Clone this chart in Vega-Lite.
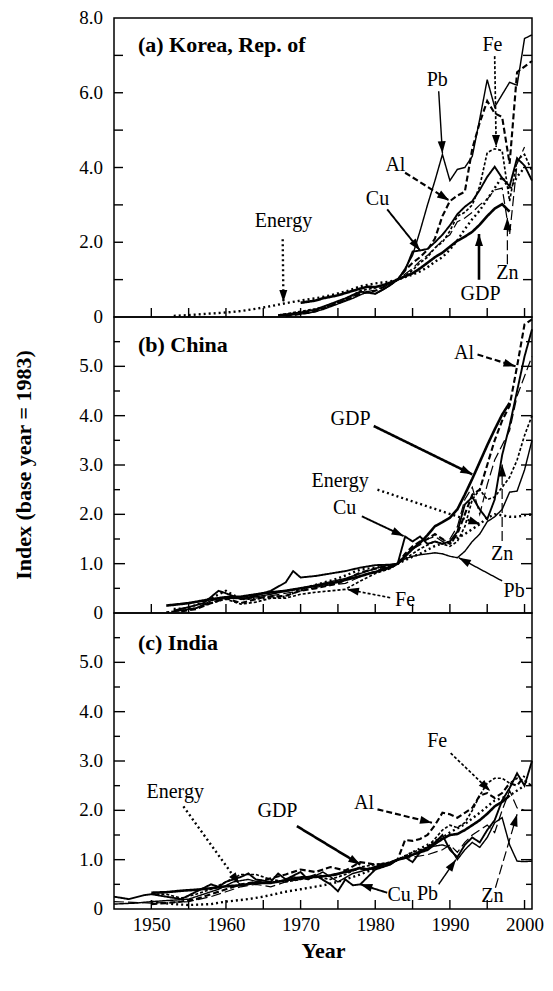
{
"$schema": "https://vega.github.io/schema/vega-lite/v6.json",
"padding": {"left": 12, "top": 8, "right": 5, "bottom": 5},
"spacing": 0,
"bounds": "flush",
"config": {
  "font": "Liberation Serif",
  "view": {"stroke": "black", "strokeWidth": 1.5},
  "axis": {"domain": false, "grid": false, "ticks": false, "labelFont": "Liberation Serif", "labelFontSize": 19, "labelColor": "black", "titleFont": "Liberation Serif", "titleFontSize": 22, "titleFontWeight": "bold", "titleColor": "black", "labelOverlap": false},
  "text": {"font": "Liberation Serif", "fontSize": 20, "color": "black"}
},
"datasets": {
  "xticks": [{"t":1950},{"t":1955},{"t":1960},{"t":1965},{"t":1970},{"t":1975},{"t":1980},{"t":1985},{"t":1990},{"t":1995},{"t":2000}],
  "yticksA": [{"t":1},{"t":2},{"t":3},{"t":4},{"t":5},{"t":6},{"t":7}],
  "yticksMajor": [{"t":1},{"t":2},{"t":3},{"t":4},{"t":5}],
  "yticksMinor": [{"t":0.5},{"t":1.5},{"t":2.5},{"t":3.5},{"t":4.5},{"t":5.5}],
  "ylabA": [{"t":0},{"t":2},{"t":4},{"t":6},{"t":8}],
  "ylabBC": [{"t":0},{"t":1},{"t":2},{"t":3},{"t":4},{"t":5}],
  "ytitle": [{"label":"Index (base year = 1983)","value":3}],
  "korea": [
    {"series":"GDP","year":1970,"value":0.38},{"series":"GDP","year":1971,"value":0.41},{"series":"GDP","year":1972,"value":0.44},{"series":"GDP","year":1973,"value":0.5},{"series":"GDP","year":1974,"value":0.54},{"series":"GDP","year":1975,"value":0.58},{"series":"GDP","year":1976,"value":0.64},{"series":"GDP","year":1977,"value":0.7},{"series":"GDP","year":1978,"value":0.76},{"series":"GDP","year":1979,"value":0.81},{"series":"GDP","year":1980,"value":0.8},{"series":"GDP","year":1981,"value":0.85},{"series":"GDP","year":1982,"value":0.92},{"series":"GDP","year":1983,"value":1.0},{"series":"GDP","year":1984,"value":1.09},{"series":"GDP","year":1985,"value":1.17},{"series":"GDP","year":1986,"value":1.3},{"series":"GDP","year":1987,"value":1.45},{"series":"GDP","year":1988,"value":1.6},{"series":"GDP","year":1989,"value":1.72},{"series":"GDP","year":1990,"value":1.88},{"series":"GDP","year":1991,"value":2.04},{"series":"GDP","year":1992,"value":2.15},{"series":"GDP","year":1993,"value":2.28},{"series":"GDP","year":1994,"value":2.47},{"series":"GDP","year":1995,"value":2.7},{"series":"GDP","year":1996,"value":2.9},{"series":"GDP","year":1997,"value":3.02},{"series":"GDP","year":1998,"value":2.82},
    {"series":"Energy","year":1953,"value":0.03},{"series":"Energy","year":1955,"value":0.05},{"series":"Energy","year":1957,"value":0.08},{"series":"Energy","year":1960,"value":0.12},{"series":"Energy","year":1962,"value":0.16},{"series":"Energy","year":1964,"value":0.22},{"series":"Energy","year":1966,"value":0.29},{"series":"Energy","year":1968,"value":0.37},{"series":"Energy","year":1970,"value":0.44},{"series":"Energy","year":1972,"value":0.5},{"series":"Energy","year":1974,"value":0.58},{"series":"Energy","year":1976,"value":0.68},{"series":"Energy","year":1978,"value":0.82},{"series":"Energy","year":1980,"value":0.9},{"series":"Energy","year":1982,"value":0.95},{"series":"Energy","year":1983,"value":1.0},{"series":"Energy","year":1984,"value":1.07},{"series":"Energy","year":1985,"value":1.13},{"series":"Energy","year":1986,"value":1.22},{"series":"Energy","year":1987,"value":1.33},{"series":"Energy","year":1988,"value":1.48},{"series":"Energy","year":1989,"value":1.6},{"series":"Energy","year":1990,"value":1.8},{"series":"Energy","year":1991,"value":2.05},{"series":"Energy","year":1992,"value":2.35},{"series":"Energy","year":1993,"value":2.62},{"series":"Energy","year":1994,"value":2.85},{"series":"Energy","year":1995,"value":3.15},{"series":"Energy","year":1996,"value":3.45},{"series":"Energy","year":1997,"value":3.75},{"series":"Energy","year":1998,"value":3.4},{"series":"Energy","year":1999,"value":3.75},{"series":"Energy","year":2000,"value":4.0},
    {"series":"Al","year":1968,"value":0.02},{"series":"Al","year":1970,"value":0.08},{"series":"Al","year":1972,"value":0.15},{"series":"Al","year":1974,"value":0.3},{"series":"Al","year":1976,"value":0.45},{"series":"Al","year":1978,"value":0.62},{"series":"Al","year":1980,"value":0.7},{"series":"Al","year":1982,"value":0.88},{"series":"Al","year":1983,"value":1.0},{"series":"Al","year":1984,"value":1.25},{"series":"Al","year":1985,"value":1.45},{"series":"Al","year":1986,"value":1.6},{"series":"Al","year":1987,"value":1.8},{"series":"Al","year":1988,"value":2.1},{"series":"Al","year":1989,"value":2.7},{"series":"Al","year":1990,"value":3.1},{"series":"Al","year":1991,"value":3.25},{"series":"Al","year":1992,"value":3.35},{"series":"Al","year":1993,"value":4.5},{"series":"Al","year":1994,"value":5.2},{"series":"Al","year":1995,"value":5.78},{"series":"Al","year":1996,"value":5.45},{"series":"Al","year":1997,"value":5.35},{"series":"Al","year":1998,"value":4.1},{"series":"Al","year":1999,"value":6.55},{"series":"Al","year":2000,"value":6.7},{"series":"Al","year":2001,"value":6.85},
    {"series":"Cu","year":1967,"value":0.05},{"series":"Cu","year":1970,"value":0.12},{"series":"Cu","year":1972,"value":0.2},{"series":"Cu","year":1974,"value":0.35},{"series":"Cu","year":1976,"value":0.5},{"series":"Cu","year":1978,"value":0.68},{"series":"Cu","year":1980,"value":0.62},{"series":"Cu","year":1982,"value":0.85},{"series":"Cu","year":1983,"value":1.0},{"series":"Cu","year":1984,"value":1.25},{"series":"Cu","year":1985,"value":1.75},{"series":"Cu","year":1986,"value":1.78},{"series":"Cu","year":1987,"value":1.82},{"series":"Cu","year":1988,"value":2.0},{"series":"Cu","year":1989,"value":2.2},{"series":"Cu","year":1990,"value":2.45},{"series":"Cu","year":1991,"value":2.75},{"series":"Cu","year":1992,"value":2.95},{"series":"Cu","year":1993,"value":3.1},{"series":"Cu","year":1994,"value":3.4},{"series":"Cu","year":1995,"value":3.75},{"series":"Cu","year":1996,"value":4.02},{"series":"Cu","year":1997,"value":3.72},{"series":"Cu","year":1998,"value":3.5},{"series":"Cu","year":1999,"value":4.25},{"series":"Cu","year":2000,"value":4.05},{"series":"Cu","year":2001,"value":3.65},
    {"series":"Fe","year":1967,"value":0.05},{"series":"Fe","year":1970,"value":0.15},{"series":"Fe","year":1972,"value":0.22},{"series":"Fe","year":1974,"value":0.32},{"series":"Fe","year":1976,"value":0.48},{"series":"Fe","year":1978,"value":0.7},{"series":"Fe","year":1980,"value":0.78},{"series":"Fe","year":1982,"value":0.9},{"series":"Fe","year":1983,"value":1.0},{"series":"Fe","year":1984,"value":1.1},{"series":"Fe","year":1985,"value":1.25},{"series":"Fe","year":1986,"value":1.45},{"series":"Fe","year":1987,"value":1.6},{"series":"Fe","year":1988,"value":1.85},{"series":"Fe","year":1989,"value":2.0},{"series":"Fe","year":1990,"value":2.3},{"series":"Fe","year":1991,"value":2.7},{"series":"Fe","year":1992,"value":2.8},{"series":"Fe","year":1993,"value":3.0},{"series":"Fe","year":1994,"value":3.5},{"series":"Fe","year":1995,"value":4.4},{"series":"Fe","year":1996,"value":4.5},{"series":"Fe","year":1997,"value":4.45},{"series":"Fe","year":1998,"value":3.1},{"series":"Fe","year":1999,"value":4.2},{"series":"Fe","year":2000,"value":4.35},{"series":"Fe","year":2001,"value":3.9},
    {"series":"Pb","year":1967,"value":0.03},{"series":"Pb","year":1969,"value":0.06},{"series":"Pb","year":1971,"value":0.1},{"series":"Pb","year":1973,"value":0.2},{"series":"Pb","year":1975,"value":0.35},{"series":"Pb","year":1977,"value":0.5},{"series":"Pb","year":1979,"value":0.68},{"series":"Pb","year":1980,"value":0.62},{"series":"Pb","year":1981,"value":0.72},{"series":"Pb","year":1982,"value":0.85},{"series":"Pb","year":1983,"value":1.0},{"series":"Pb","year":1984,"value":1.3},{"series":"Pb","year":1985,"value":1.65},{"series":"Pb","year":1986,"value":2.3},{"series":"Pb","year":1987,"value":3.0},{"series":"Pb","year":1988,"value":3.65},{"series":"Pb","year":1989,"value":4.35},{"series":"Pb","year":1990,"value":3.65},{"series":"Pb","year":1991,"value":3.95},{"series":"Pb","year":1992,"value":4.0},{"series":"Pb","year":1993,"value":4.3},{"series":"Pb","year":1994,"value":5.3},{"series":"Pb","year":1995,"value":6.35},{"series":"Pb","year":1996,"value":5.62},{"series":"Pb","year":1997,"value":5.95},{"series":"Pb","year":1998,"value":6.28},{"series":"Pb","year":1999,"value":6.2},{"series":"Pb","year":2000,"value":7.45},{"series":"Pb","year":2001,"value":7.55},
    {"series":"Zn","year":1968,"value":0.03},{"series":"Zn","year":1970,"value":0.1},{"series":"Zn","year":1972,"value":0.18},{"series":"Zn","year":1974,"value":0.3},{"series":"Zn","year":1976,"value":0.45},{"series":"Zn","year":1978,"value":0.65},{"series":"Zn","year":1980,"value":0.72},{"series":"Zn","year":1982,"value":0.88},{"series":"Zn","year":1983,"value":1.0},{"series":"Zn","year":1984,"value":1.15},{"series":"Zn","year":1985,"value":1.3},{"series":"Zn","year":1986,"value":1.5},{"series":"Zn","year":1987,"value":1.65},{"series":"Zn","year":1988,"value":1.85},{"series":"Zn","year":1989,"value":2.05},{"series":"Zn","year":1990,"value":2.2},{"series":"Zn","year":1991,"value":2.55},{"series":"Zn","year":1992,"value":2.65},{"series":"Zn","year":1993,"value":2.8},{"series":"Zn","year":1994,"value":3.0},{"series":"Zn","year":1995,"value":3.15},{"series":"Zn","year":1996,"value":3.4},{"series":"Zn","year":1997,"value":3.45},{"series":"Zn","year":1998,"value":2.2},{"series":"Zn","year":1999,"value":4.1},{"series":"Zn","year":2000,"value":4.55}
  ],
  "china": [
    {"series":"GDP","year":1952,"value":0.15},{"series":"GDP","year":1955,"value":0.2},{"series":"GDP","year":1958,"value":0.28},{"series":"GDP","year":1960,"value":0.32},{"series":"GDP","year":1962,"value":0.33},{"series":"GDP","year":1965,"value":0.4},{"series":"GDP","year":1968,"value":0.45},{"series":"GDP","year":1970,"value":0.5},{"series":"GDP","year":1972,"value":0.55},{"series":"GDP","year":1975,"value":0.63},{"series":"GDP","year":1978,"value":0.75},{"series":"GDP","year":1980,"value":0.83},{"series":"GDP","year":1982,"value":0.92},{"series":"GDP","year":1983,"value":1.0},{"series":"GDP","year":1984,"value":1.15},{"series":"GDP","year":1985,"value":1.3},{"series":"GDP","year":1986,"value":1.42},{"series":"GDP","year":1987,"value":1.58},{"series":"GDP","year":1988,"value":1.76},{"series":"GDP","year":1989,"value":1.84},{"series":"GDP","year":1990,"value":1.93},{"series":"GDP","year":1991,"value":2.1},{"series":"GDP","year":1992,"value":2.4},{"series":"GDP","year":1993,"value":2.72},{"series":"GDP","year":1994,"value":3.06},{"series":"GDP","year":1995,"value":3.4},{"series":"GDP","year":1996,"value":3.72},{"series":"GDP","year":1997,"value":4.02},{"series":"GDP","year":1998,"value":4.26},
    {"series":"Energy","year":1953,"value":0.08},{"series":"Energy","year":1955,"value":0.1},{"series":"Energy","year":1958,"value":0.3},{"series":"Energy","year":1960,"value":0.45},{"series":"Energy","year":1962,"value":0.28},{"series":"Energy","year":1965,"value":0.3},{"series":"Energy","year":1968,"value":0.33},{"series":"Energy","year":1970,"value":0.48},{"series":"Energy","year":1972,"value":0.57},{"series":"Energy","year":1975,"value":0.7},{"series":"Energy","year":1978,"value":0.88},{"series":"Energy","year":1980,"value":0.92},{"series":"Energy","year":1982,"value":0.95},{"series":"Energy","year":1983,"value":1.0},{"series":"Energy","year":1984,"value":1.07},{"series":"Energy","year":1985,"value":1.14},{"series":"Energy","year":1986,"value":1.2},{"series":"Energy","year":1987,"value":1.28},{"series":"Energy","year":1988,"value":1.36},{"series":"Energy","year":1989,"value":1.41},{"series":"Energy","year":1990,"value":1.44},{"series":"Energy","year":1991,"value":1.52},{"series":"Energy","year":1992,"value":1.6},{"series":"Energy","year":1993,"value":1.7},{"series":"Energy","year":1994,"value":1.8},{"series":"Energy","year":1995,"value":1.93},{"series":"Energy","year":1996,"value":2.0},{"series":"Energy","year":1997,"value":1.98},{"series":"Energy","year":1998,"value":1.95},{"series":"Energy","year":1999,"value":1.95},{"series":"Energy","year":2000,"value":1.98},{"series":"Energy","year":2001,"value":2.0},
    {"series":"Al","year":1954,"value":0.03},{"series":"Al","year":1956,"value":0.08},{"series":"Al","year":1958,"value":0.2},{"series":"Al","year":1960,"value":0.3},{"series":"Al","year":1962,"value":0.2},{"series":"Al","year":1965,"value":0.32},{"series":"Al","year":1968,"value":0.35},{"series":"Al","year":1970,"value":0.45},{"series":"Al","year":1972,"value":0.5},{"series":"Al","year":1975,"value":0.6},{"series":"Al","year":1978,"value":0.82},{"series":"Al","year":1980,"value":0.9},{"series":"Al","year":1982,"value":0.95},{"series":"Al","year":1983,"value":1.0},{"series":"Al","year":1984,"value":1.2},{"series":"Al","year":1985,"value":1.35},{"series":"Al","year":1986,"value":1.45},{"series":"Al","year":1987,"value":1.5},{"series":"Al","year":1988,"value":1.6},{"series":"Al","year":1989,"value":1.5},{"series":"Al","year":1990,"value":1.4},{"series":"Al","year":1991,"value":1.6},{"series":"Al","year":1992,"value":2.0},{"series":"Al","year":1993,"value":2.4},{"series":"Al","year":1994,"value":2.5},{"series":"Al","year":1995,"value":3.0},{"series":"Al","year":1996,"value":3.5},{"series":"Al","year":1997,"value":3.9},{"series":"Al","year":1998,"value":4.2},{"series":"Al","year":1999,"value":5.0},{"series":"Al","year":2000,"value":5.85},{"series":"Al","year":2001,"value":5.95},
    {"series":"Cu","year":1953,"value":0.05},{"series":"Cu","year":1955,"value":0.12},{"series":"Cu","year":1957,"value":0.2},{"series":"Cu","year":1959,"value":0.45},{"series":"Cu","year":1960,"value":0.4},{"series":"Cu","year":1962,"value":0.28},{"series":"Cu","year":1964,"value":0.35},{"series":"Cu","year":1966,"value":0.45},{"series":"Cu","year":1968,"value":0.62},{"series":"Cu","year":1969,"value":0.85},{"series":"Cu","year":1970,"value":0.72},{"series":"Cu","year":1972,"value":0.75},{"series":"Cu","year":1974,"value":0.8},{"series":"Cu","year":1976,"value":0.85},{"series":"Cu","year":1978,"value":0.92},{"series":"Cu","year":1980,"value":0.97},{"series":"Cu","year":1982,"value":0.98},{"series":"Cu","year":1983,"value":1.0},{"series":"Cu","year":1984,"value":1.55},{"series":"Cu","year":1985,"value":1.45},{"series":"Cu","year":1986,"value":1.55},{"series":"Cu","year":1987,"value":1.4},{"series":"Cu","year":1988,"value":1.45},{"series":"Cu","year":1989,"value":1.4},{"series":"Cu","year":1990,"value":1.45},{"series":"Cu","year":1991,"value":1.65},{"series":"Cu","year":1992,"value":2.2},{"series":"Cu","year":1993,"value":2.35},{"series":"Cu","year":1994,"value":2.1},{"series":"Cu","year":1995,"value":1.9},{"series":"Cu","year":1996,"value":2.3},{"series":"Cu","year":1997,"value":3.2},{"series":"Cu","year":1998,"value":3.8},{"series":"Cu","year":1999,"value":4.5},{"series":"Cu","year":2000,"value":5.2},{"series":"Cu","year":2001,"value":5.75},
    {"series":"Fe","year":1952,"value":0.02},{"series":"Fe","year":1954,"value":0.05},{"series":"Fe","year":1956,"value":0.1},{"series":"Fe","year":1958,"value":0.2},{"series":"Fe","year":1960,"value":0.28},{"series":"Fe","year":1962,"value":0.18},{"series":"Fe","year":1964,"value":0.22},{"series":"Fe","year":1966,"value":0.3},{"series":"Fe","year":1968,"value":0.3},{"series":"Fe","year":1970,"value":0.38},{"series":"Fe","year":1972,"value":0.42},{"series":"Fe","year":1974,"value":0.45},{"series":"Fe","year":1976,"value":0.48},{"series":"Fe","year":1978,"value":0.65},{"series":"Fe","year":1980,"value":0.8},{"series":"Fe","year":1982,"value":0.9},{"series":"Fe","year":1983,"value":1.0},{"series":"Fe","year":1984,"value":1.1},{"series":"Fe","year":1985,"value":1.2},{"series":"Fe","year":1986,"value":1.3},{"series":"Fe","year":1987,"value":1.38},{"series":"Fe","year":1988,"value":1.45},{"series":"Fe","year":1989,"value":1.4},{"series":"Fe","year":1990,"value":1.35},{"series":"Fe","year":1991,"value":1.45},{"series":"Fe","year":1992,"value":1.75},{"series":"Fe","year":1993,"value":2.3},{"series":"Fe","year":1994,"value":2.5},{"series":"Fe","year":1995,"value":2.3},{"series":"Fe","year":1996,"value":2.35},{"series":"Fe","year":1997,"value":2.55},{"series":"Fe","year":1998,"value":2.75},{"series":"Fe","year":1999,"value":3.1},{"series":"Fe","year":2000,"value":3.6},{"series":"Fe","year":2001,"value":4.0},
    {"series":"Pb","year":1953,"value":0.03},{"series":"Pb","year":1956,"value":0.1},{"series":"Pb","year":1958,"value":0.25},{"series":"Pb","year":1960,"value":0.32},{"series":"Pb","year":1963,"value":0.3},{"series":"Pb","year":1966,"value":0.38},{"series":"Pb","year":1970,"value":0.5},{"series":"Pb","year":1973,"value":0.6},{"series":"Pb","year":1976,"value":0.7},{"series":"Pb","year":1979,"value":0.85},{"series":"Pb","year":1981,"value":0.95},{"series":"Pb","year":1983,"value":1.0},{"series":"Pb","year":1984,"value":1.1},{"series":"Pb","year":1985,"value":1.15},{"series":"Pb","year":1986,"value":1.18},{"series":"Pb","year":1987,"value":1.2},{"series":"Pb","year":1988,"value":1.22},{"series":"Pb","year":1989,"value":1.2},{"series":"Pb","year":1990,"value":1.15},{"series":"Pb","year":1991,"value":1.12},{"series":"Pb","year":1992,"value":1.25},{"series":"Pb","year":1993,"value":1.45},{"series":"Pb","year":1994,"value":1.6},{"series":"Pb","year":1995,"value":1.85},{"series":"Pb","year":1996,"value":1.95},{"series":"Pb","year":1997,"value":2.1},{"series":"Pb","year":1998,"value":2.45},{"series":"Pb","year":1999,"value":2.47},{"series":"Pb","year":2000,"value":2.9},{"series":"Pb","year":2001,"value":3.5},
    {"series":"Zn","year":1953,"value":0.03},{"series":"Zn","year":1956,"value":0.1},{"series":"Zn","year":1958,"value":0.22},{"series":"Zn","year":1960,"value":0.3},{"series":"Zn","year":1963,"value":0.28},{"series":"Zn","year":1966,"value":0.35},{"series":"Zn","year":1970,"value":0.45},{"series":"Zn","year":1973,"value":0.55},{"series":"Zn","year":1976,"value":0.6},{"series":"Zn","year":1979,"value":0.8},{"series":"Zn","year":1981,"value":0.9},{"series":"Zn","year":1983,"value":1.0},{"series":"Zn","year":1984,"value":1.15},{"series":"Zn","year":1985,"value":1.3},{"series":"Zn","year":1986,"value":1.38},{"series":"Zn","year":1987,"value":1.5},{"series":"Zn","year":1988,"value":1.55},{"series":"Zn","year":1989,"value":1.45},{"series":"Zn","year":1990,"value":1.5},{"series":"Zn","year":1991,"value":1.75},{"series":"Zn","year":1992,"value":2.3},{"series":"Zn","year":1993,"value":2.55},{"series":"Zn","year":1994,"value":2.0},{"series":"Zn","year":1995,"value":2.6},{"series":"Zn","year":1996,"value":3.1},{"series":"Zn","year":1997,"value":3.4},{"series":"Zn","year":1998,"value":3.7},{"series":"Zn","year":1999,"value":4.4},{"series":"Zn","year":2000,"value":4.8},{"series":"Zn","year":2001,"value":5.2}
  ],
  "india": [
    {"series":"GDP","year":1950,"value":0.33},{"series":"GDP","year":1952,"value":0.34},{"series":"GDP","year":1954,"value":0.37},{"series":"GDP","year":1956,"value":0.39},{"series":"GDP","year":1958,"value":0.42},{"series":"GDP","year":1960,"value":0.46},{"series":"GDP","year":1962,"value":0.48},{"series":"GDP","year":1964,"value":0.53},{"series":"GDP","year":1966,"value":0.53},{"series":"GDP","year":1968,"value":0.58},{"series":"GDP","year":1970,"value":0.64},{"series":"GDP","year":1972,"value":0.65},{"series":"GDP","year":1974,"value":0.68},{"series":"GDP","year":1976,"value":0.75},{"series":"GDP","year":1978,"value":0.83},{"series":"GDP","year":1979,"value":0.8},{"series":"GDP","year":1980,"value":0.85},{"series":"GDP","year":1982,"value":0.94},{"series":"GDP","year":1983,"value":1.0},{"series":"GDP","year":1984,"value":1.04},{"series":"GDP","year":1985,"value":1.1},{"series":"GDP","year":1986,"value":1.15},{"series":"GDP","year":1987,"value":1.2},{"series":"GDP","year":1988,"value":1.32},{"series":"GDP","year":1989,"value":1.42},{"series":"GDP","year":1990,"value":1.5},{"series":"GDP","year":1991,"value":1.52},{"series":"GDP","year":1992,"value":1.6},{"series":"GDP","year":1993,"value":1.7},{"series":"GDP","year":1994,"value":1.8},{"series":"GDP","year":1995,"value":1.93},{"series":"GDP","year":1996,"value":2.08},{"series":"GDP","year":1997,"value":2.17},{"series":"GDP","year":1998,"value":2.3},
    {"series":"Energy","year":1950,"value":0.15},{"series":"Energy","year":1953,"value":0.1},{"series":"Energy","year":1955,"value":0.08},{"series":"Energy","year":1958,"value":0.1},{"series":"Energy","year":1960,"value":0.15},{"series":"Energy","year":1963,"value":0.2},{"series":"Energy","year":1965,"value":0.25},{"series":"Energy","year":1968,"value":0.35},{"series":"Energy","year":1970,"value":0.4},{"series":"Energy","year":1973,"value":0.48},{"series":"Energy","year":1975,"value":0.55},{"series":"Energy","year":1978,"value":0.7},{"series":"Energy","year":1980,"value":0.82},{"series":"Energy","year":1982,"value":0.93},{"series":"Energy","year":1983,"value":1.0},{"series":"Energy","year":1985,"value":1.15},{"series":"Energy","year":1987,"value":1.3},{"series":"Energy","year":1989,"value":1.45},{"series":"Energy","year":1990,"value":1.55},{"series":"Energy","year":1992,"value":1.72},{"series":"Energy","year":1994,"value":1.95},{"series":"Energy","year":1996,"value":2.2},{"series":"Energy","year":1998,"value":2.3},{"series":"Energy","year":2000,"value":2.5},
    {"series":"Al","year":1950,"value":0.1},{"series":"Al","year":1952,"value":0.12},{"series":"Al","year":1954,"value":0.15},{"series":"Al","year":1956,"value":0.2},{"series":"Al","year":1958,"value":0.3},{"series":"Al","year":1960,"value":0.4},{"series":"Al","year":1962,"value":0.5},{"series":"Al","year":1964,"value":0.55},{"series":"Al","year":1966,"value":0.62},{"series":"Al","year":1968,"value":0.7},{"series":"Al","year":1970,"value":0.8},{"series":"Al","year":1972,"value":0.75},{"series":"Al","year":1974,"value":0.85},{"series":"Al","year":1976,"value":0.78},{"series":"Al","year":1978,"value":0.95},{"series":"Al","year":1980,"value":0.9},{"series":"Al","year":1982,"value":0.92},{"series":"Al","year":1983,"value":1.0},{"series":"Al","year":1984,"value":1.4},{"series":"Al","year":1985,"value":1.38},{"series":"Al","year":1986,"value":1.42},{"series":"Al","year":1987,"value":1.5},{"series":"Al","year":1988,"value":1.7},{"series":"Al","year":1989,"value":1.95},{"series":"Al","year":1990,"value":1.92},{"series":"Al","year":1991,"value":1.85},{"series":"Al","year":1992,"value":1.95},{"series":"Al","year":1993,"value":2.05},{"series":"Al","year":1994,"value":2.3},{"series":"Al","year":1995,"value":2.35},{"series":"Al","year":1996,"value":2.25},{"series":"Al","year":1997,"value":2.35},{"series":"Al","year":1998,"value":2.55},{"series":"Al","year":1999,"value":2.5},{"series":"Al","year":2000,"value":2.7},
    {"series":"Fe","year":1950,"value":0.3},{"series":"Fe","year":1952,"value":0.3},{"series":"Fe","year":1954,"value":0.22},{"series":"Fe","year":1956,"value":0.3},{"series":"Fe","year":1958,"value":0.4},{"series":"Fe","year":1960,"value":0.55},{"series":"Fe","year":1962,"value":0.7},{"series":"Fe","year":1964,"value":0.7},{"series":"Fe","year":1966,"value":0.6},{"series":"Fe","year":1968,"value":0.55},{"series":"Fe","year":1970,"value":0.6},{"series":"Fe","year":1972,"value":0.65},{"series":"Fe","year":1974,"value":0.6},{"series":"Fe","year":1976,"value":0.7},{"series":"Fe","year":1978,"value":0.85},{"series":"Fe","year":1980,"value":0.9},{"series":"Fe","year":1982,"value":0.95},{"series":"Fe","year":1983,"value":1.0},{"series":"Fe","year":1985,"value":1.15},{"series":"Fe","year":1987,"value":1.25},{"series":"Fe","year":1989,"value":1.6},{"series":"Fe","year":1990,"value":1.7},{"series":"Fe","year":1991,"value":1.65},{"series":"Fe","year":1992,"value":1.75},{"series":"Fe","year":1993,"value":2.0},{"series":"Fe","year":1994,"value":2.3},{"series":"Fe","year":1995,"value":2.55},{"series":"Fe","year":1996,"value":2.65},{"series":"Fe","year":1997,"value":2.65},{"series":"Fe","year":1998,"value":2.55},{"series":"Fe","year":1999,"value":2.65},{"series":"Fe","year":2000,"value":2.6},{"series":"Fe","year":2001,"value":2.5},
    {"series":"Cu","year":1945,"value":0.25},{"series":"Cu","year":1947,"value":0.2},{"series":"Cu","year":1949,"value":0.28},{"series":"Cu","year":1950,"value":0.3},{"series":"Cu","year":1952,"value":0.25},{"series":"Cu","year":1954,"value":0.2},{"series":"Cu","year":1956,"value":0.35},{"series":"Cu","year":1958,"value":0.5},{"series":"Cu","year":1959,"value":0.45},{"series":"Cu","year":1960,"value":0.55},{"series":"Cu","year":1962,"value":0.65},{"series":"Cu","year":1963,"value":0.72},{"series":"Cu","year":1964,"value":0.6},{"series":"Cu","year":1966,"value":0.55},{"series":"Cu","year":1967,"value":0.72},{"series":"Cu","year":1968,"value":0.6},{"series":"Cu","year":1970,"value":0.75},{"series":"Cu","year":1971,"value":0.6},{"series":"Cu","year":1972,"value":0.68},{"series":"Cu","year":1974,"value":0.5},{"series":"Cu","year":1975,"value":0.36},{"series":"Cu","year":1976,"value":0.6},{"series":"Cu","year":1977,"value":0.48},{"series":"Cu","year":1978,"value":0.5},{"series":"Cu","year":1979,"value":0.65},{"series":"Cu","year":1980,"value":0.8},{"series":"Cu","year":1982,"value":0.9},{"series":"Cu","year":1983,"value":1.0},{"series":"Cu","year":1984,"value":1.05},{"series":"Cu","year":1985,"value":0.95},{"series":"Cu","year":1986,"value":1.15},{"series":"Cu","year":1987,"value":1.25},{"series":"Cu","year":1988,"value":1.35},{"series":"Cu","year":1989,"value":1.5},{"series":"Cu","year":1990,"value":1.2},{"series":"Cu","year":1991,"value":1.05},{"series":"Cu","year":1992,"value":1.3},{"series":"Cu","year":1993,"value":1.45},{"series":"Cu","year":1994,"value":1.35},{"series":"Cu","year":1995,"value":1.6},{"series":"Cu","year":1996,"value":1.8},{"series":"Cu","year":1997,"value":2.2},{"series":"Cu","year":1998,"value":2.45},{"series":"Cu","year":1999,"value":2.75},{"series":"Cu","year":2000,"value":2.5},{"series":"Cu","year":2001,"value":3.0},
    {"series":"Pb","year":1945,"value":0.1},{"series":"Pb","year":1948,"value":0.12},{"series":"Pb","year":1950,"value":0.15},{"series":"Pb","year":1953,"value":0.18},{"series":"Pb","year":1955,"value":0.2},{"series":"Pb","year":1957,"value":0.3},{"series":"Pb","year":1959,"value":0.4},{"series":"Pb","year":1961,"value":0.55},{"series":"Pb","year":1963,"value":0.6},{"series":"Pb","year":1965,"value":0.52},{"series":"Pb","year":1967,"value":0.55},{"series":"Pb","year":1969,"value":0.65},{"series":"Pb","year":1971,"value":0.6},{"series":"Pb","year":1973,"value":0.75},{"series":"Pb","year":1975,"value":0.55},{"series":"Pb","year":1977,"value":0.72},{"series":"Pb","year":1979,"value":0.8},{"series":"Pb","year":1981,"value":0.85},{"series":"Pb","year":1983,"value":1.0},{"series":"Pb","year":1985,"value":1.1},{"series":"Pb","year":1987,"value":1.25},{"series":"Pb","year":1989,"value":1.3},{"series":"Pb","year":1990,"value":1.25},{"series":"Pb","year":1991,"value":1.0},{"series":"Pb","year":1992,"value":1.2},{"series":"Pb","year":1993,"value":1.35},{"series":"Pb","year":1994,"value":1.25},{"series":"Pb","year":1995,"value":1.45},{"series":"Pb","year":1996,"value":1.75},{"series":"Pb","year":1997,"value":1.85},{"series":"Pb","year":1998,"value":1.3},{"series":"Pb","year":1999,"value":0.97},{"series":"Pb","year":2000,"value":0.96},{"series":"Pb","year":2001,"value":0.97},
    {"series":"Zn","year":1945,"value":0.15},{"series":"Zn","year":1950,"value":0.12},{"series":"Zn","year":1955,"value":0.15},{"series":"Zn","year":1958,"value":0.25},{"series":"Zn","year":1960,"value":0.35},{"series":"Zn","year":1962,"value":0.45},{"series":"Zn","year":1964,"value":0.5},{"series":"Zn","year":1966,"value":0.45},{"series":"Zn","year":1968,"value":0.55},{"series":"Zn","year":1970,"value":0.6},{"series":"Zn","year":1972,"value":0.7},{"series":"Zn","year":1974,"value":0.65},{"series":"Zn","year":1976,"value":0.75},{"series":"Zn","year":1978,"value":0.8},{"series":"Zn","year":1980,"value":0.85},{"series":"Zn","year":1982,"value":0.9},{"series":"Zn","year":1983,"value":1.0},{"series":"Zn","year":1985,"value":1.05},{"series":"Zn","year":1987,"value":1.1},{"series":"Zn","year":1989,"value":1.2},{"series":"Zn","year":1990,"value":1.3},{"series":"Zn","year":1991,"value":1.15},{"series":"Zn","year":1992,"value":1.35},{"series":"Zn","year":1993,"value":1.5},{"series":"Zn","year":1994,"value":1.6},{"series":"Zn","year":1995,"value":1.7},{"series":"Zn","year":1996,"value":1.55},{"series":"Zn","year":1997,"value":2.0},{"series":"Zn","year":1998,"value":2.4},{"series":"Zn","year":1999,"value":2.05},{"series":"Zn","year":2000,"value":2.0},{"series":"Zn","year":2001,"value":2.0}
  ],
  "arrowsA": [
    {"series":"Energy","x1":1967.6,"y1":2.08,"x2":1967.7,"y2":0.4},
    {"series":"Cu","x1":1981.6,"y1":2.88,"x2":1986.0,"y2":1.78},
    {"series":"Al","x1":1984.0,"y1":3.86,"x2":1989.9,"y2":3.12},
    {"series":"Pb","x1":1988.5,"y1":6.04,"x2":1989.0,"y2":4.38},
    {"series":"Fe","x1":1996.0,"y1":6.98,"x2":1996.2,"y2":4.55},
    {"series":"Zn","x1":1997.7,"y1":1.41,"x2":1997.7,"y2":2.65},
    {"series":"GDP","x1":1993.9,"y1":1.0,"x2":1993.9,"y2":2.22}
  ],
  "labelsA": [
    {"label":"Energy","year":1967.7,"value":2.57},{"label":"Cu","year":1980.3,"value":3.16},{"label":"Al","year":1982.7,"value":4.08},{"label":"Pb","year":1988.3,"value":6.34},{"label":"Fe","year":1995.7,"value":7.29},{"label":"Zn","year":1997.7,"value":1.18},{"label":"GDP","year":1994.1,"value":0.61}
  ],
  "titleA": [{"label":"(a) Korea, Rep. of","year":1948.2,"value":7.29}],
  "arrowsB": [
    {"series":"Al","x1":1993.7,"y1":5.24,"x2":1998.8,"y2":5.0},
    {"series":"GDP","x1":1979.8,"y1":3.79,"x2":1993.0,"y2":2.81},
    {"series":"Energy","x1":1980.3,"y1":2.5,"x2":1994.1,"y2":1.8},
    {"series":"Cu","x1":1978.2,"y1":1.96,"x2":1983.8,"y2":1.56},
    {"series":"Zn","x1":1997.0,"y1":1.46,"x2":1997.0,"y2":3.01},
    {"series":"Pb","x1":1997.0,"y1":0.65,"x2":1991.2,"y2":1.12},
    {"series":"Fe","x1":1982.0,"y1":0.31,"x2":1976.2,"y2":0.48}
  ],
  "labelsB": [
    {"label":"Al","year":1991.9,"value":5.27},{"label":"GDP","year":1976.7,"value":3.94},{"label":"Energy","year":1975.3,"value":2.67},{"label":"Cu","year":1975.9,"value":2.13},{"label":"Zn","year":1997.0,"value":1.19},{"label":"Pb","year":1998.6,"value":0.45},{"label":"Fe","year":1984.0,"value":0.26}
  ],
  "titleB": [{"label":"(b) China","year":1948.2,"value":5.44}],
  "arrowsC": [
    {"series":"Fe","x1":1990.1,"y1":3.16,"x2":1995.4,"y2":2.39},
    {"series":"Energy","x1":1954.3,"y1":2.08,"x2":1961.8,"y2":0.5},
    {"series":"GDP","x1":1969.5,"y1":1.68,"x2":1978.0,"y2":0.9},
    {"series":"Al","x1":1980.3,"y1":2.02,"x2":1987.6,"y2":1.75},
    {"series":"Cu","x1":1981.6,"y1":0.33,"x2":1978.0,"y2":0.5},
    {"series":"Pb","x1":1988.5,"y1":0.5,"x2":1990.8,"y2":1.0},
    {"series":"Zn","x1":1996.1,"y1":0.43,"x2":1999.0,"y2":1.92}
  ],
  "labelsC": [
    {"label":"Fe","year":1988.3,"value":3.4},{"label":"Energy","year":1953.2,"value":2.37},{"label":"GDP","year":1966.9,"value":1.98},{"label":"Al","year":1978.5,"value":2.15},{"label":"Cu","year":1983.2,"value":0.28},{"label":"Pb","year":1987.0,"value":0.31},{"label":"Zn","year":1995.7,"value":0.26}
  ],
  "titleC": [{"label":"(c) India","year":1948.2,"value":5.39}]
},
"vconcat": [
  {
    "width": 418, "height": 299,
    "layer": [
      {"data": {"name": "korea"}, "mark": {"type": "line", "color": "black"},
       "encoding": {
         "x": {"field": "year", "type": "quantitative", "scale": {"domain": [1945, 2001], "nice": false, "zero": false}, "axis": null},
         "y": {"field": "value", "type": "quantitative", "scale": {"domain": [0, 8], "nice": false}, "axis": null},
         "strokeDash": {"field": "series", "type": "nominal", "scale": {"domain": ["GDP","Energy","Al","Cu","Fe","Pb","Zn"], "range": [[1,0],[2,3],[6,3],[1,0],[3,2],[1,0],[10,4]]}, "legend": null},
         "strokeWidth": {"field": "series", "type": "ordinal", "scale": {"domain": ["GDP","Energy","Al","Cu","Fe","Pb","Zn"], "range": [2.6,1.2,1.1,1,1,1,1.1]}, "legend": null}
       }},
      {"data": {"name": "ylabA"}, "transform": [{"calculate": "datum.t == 0 ? '0' : format(datum.t, '.1f')", "as": "lab"}],
       "mark": {"type": "text", "align": "right", "baseline": "middle", "dx": -11, "fontSize": 19},
       "encoding": {"y": {"field": "t", "type": "quantitative", "axis": null}, "x": {"datum": 1945, "type": "quantitative"}, "text": {"field": "lab"}}},
      {"data": {"name": "titleA"}, "mark": {"type": "text", "align": "left", "baseline": "middle", "fontWeight": "bold", "fontSize": 22},
       "encoding": {"x": {"field": "year", "type": "quantitative"}, "y": {"field": "value", "type": "quantitative", "axis": null}, "text": {"field": "label"}}},
      {"data": {"name": "arrowsA"}, "mark": {"type": "rule", "color": "black"},
       "encoding": {
         "x": {"field": "x1", "type": "quantitative"}, "y": {"field": "y1", "type": "quantitative", "axis": null},
         "x2": {"field": "x2"}, "y2": {"field": "y2"},
         "strokeDash": {"field": "series", "type": "nominal", "scale": {"domain": ["GDP","Energy","Al","Cu","Fe","Pb","Zn"], "range": [[1,0],[2,3],[6,3],[1,0],[3,2],[1,0],[10,4]]}, "legend": null},
         "strokeWidth": {"field": "series", "type": "ordinal", "scale": {"domain": ["GDP","Energy","Al","Cu","Fe","Pb","Zn"], "range": [2.6,1.2,1.1,1,1,1,1.1]}, "legend": null}
       }},
      {"data": {"name": "arrowsA"}, "transform": [{"calculate": "atan2((datum.x2-datum.x1)*7.46, (datum.y2-datum.y1)*37.375)*180/PI", "as": "ang"}],
       "mark": {"type": "point", "shape": "M0,0L-0.4,1.2L0.4,1.2Z", "filled": true, "color": "black", "opacity": 1, "size": 400, "strokeWidth": 0},
       "encoding": {"x": {"field": "x2", "type": "quantitative"}, "y": {"field": "y2", "type": "quantitative", "axis": null}, "angle": {"field": "ang", "type": "quantitative", "scale": null}}},
      {"data": {"name": "labelsA"}, "mark": {"type": "text", "align": "center", "baseline": "middle", "fontSize": 20},
       "encoding": {"x": {"field": "year", "type": "quantitative"}, "y": {"field": "value", "type": "quantitative", "axis": null}, "text": {"field": "label"}}},
      {"data": {"name": "xticks"}, "mark": {"type": "rule", "color": "black", "strokeWidth": 1.4, "y2Offset": -9},
       "encoding": {"x": {"field": "t", "type": "quantitative"}, "y": {"datum": 0, "type": "quantitative", "axis": null}, "y2": {"datum": 0}}},
      {"data": {"name": "yticksA"}, "mark": {"type": "rule", "color": "black", "strokeWidth": 1.4, "x2Offset": 9},
       "encoding": {"y": {"field": "t", "type": "quantitative", "axis": null}, "x": {"datum": 1945, "type": "quantitative"}, "x2": {"datum": 1945}}},
      {"data": {"name": "yticksA"}, "mark": {"type": "rule", "color": "black", "strokeWidth": 1.4, "x2Offset": -9},
       "encoding": {"y": {"field": "t", "type": "quantitative", "axis": null}, "x": {"datum": 2001, "type": "quantitative"}, "x2": {"datum": 2001}}}
    ]
  },
  {
    "width": 418, "height": 296,
    "layer": [
      {"data": {"name": "china"}, "mark": {"type": "line", "color": "black"},
       "encoding": {
         "x": {"field": "year", "type": "quantitative", "scale": {"domain": [1945, 2001], "nice": false, "zero": false}, "axis": null},
         "y": {"field": "value", "type": "quantitative", "scale": {"domain": [0, 6], "nice": false}, "axis": null},
         "strokeDash": {"field": "series", "type": "nominal", "scale": {"domain": ["GDP","Energy","Al","Cu","Fe","Pb","Zn"], "range": [[1,0],[2,3],[6,3],[1,0],[3,2],[1,0],[10,4]]}, "legend": null},
         "strokeWidth": {"field": "series", "type": "ordinal", "scale": {"domain": ["GDP","Energy","Al","Cu","Fe","Pb","Zn"], "range": [2.6,1.2,1.1,1,1,1,1.1]}, "legend": null}
       }},
      {"data": {"name": "ylabBC"}, "transform": [{"calculate": "datum.t == 0 ? '0' : format(datum.t, '.1f')", "as": "lab"}],
       "mark": {"type": "text", "align": "right", "baseline": "middle", "dx": -11, "fontSize": 19},
       "encoding": {"y": {"field": "t", "type": "quantitative", "axis": null}, "x": {"datum": 1945, "type": "quantitative"}, "text": {"field": "lab"}}},
      {"data": {"name": "ytitle"}, "mark": {"type": "text", "align": "center", "baseline": "middle", "angle": 270, "dy": -90, "fontSize": 22, "fontWeight": "bold"},
       "encoding": {"y": {"field": "value", "type": "quantitative", "axis": null}, "x": {"datum": 1945, "type": "quantitative"}, "text": {"field": "label"}}},
      {"data": {"name": "titleB"}, "mark": {"type": "text", "align": "left", "baseline": "middle", "fontWeight": "bold", "fontSize": 22},
       "encoding": {"x": {"field": "year", "type": "quantitative"}, "y": {"field": "value", "type": "quantitative", "axis": null}, "text": {"field": "label"}}},
      {"data": {"name": "arrowsB"}, "mark": {"type": "rule", "color": "black"},
       "encoding": {
         "x": {"field": "x1", "type": "quantitative"}, "y": {"field": "y1", "type": "quantitative", "axis": null},
         "x2": {"field": "x2"}, "y2": {"field": "y2"},
         "strokeDash": {"field": "series", "type": "nominal", "scale": {"domain": ["GDP","Energy","Al","Cu","Fe","Pb","Zn"], "range": [[1,0],[2,3],[6,3],[1,0],[3,2],[1,0],[10,4]]}, "legend": null},
         "strokeWidth": {"field": "series", "type": "ordinal", "scale": {"domain": ["GDP","Energy","Al","Cu","Fe","Pb","Zn"], "range": [2.6,1.2,1.1,1,1,1,1.1]}, "legend": null}
       }},
      {"data": {"name": "arrowsB"}, "transform": [{"calculate": "atan2((datum.x2-datum.x1)*7.46, (datum.y2-datum.y1)*49.33)*180/PI", "as": "ang"}],
       "mark": {"type": "point", "shape": "M0,0L-0.4,1.2L0.4,1.2Z", "filled": true, "color": "black", "opacity": 1, "size": 400, "strokeWidth": 0},
       "encoding": {"x": {"field": "x2", "type": "quantitative"}, "y": {"field": "y2", "type": "quantitative", "axis": null}, "angle": {"field": "ang", "type": "quantitative", "scale": null}}},
      {"data": {"name": "labelsB"}, "mark": {"type": "text", "align": "center", "baseline": "middle", "fontSize": 20},
       "encoding": {"x": {"field": "year", "type": "quantitative"}, "y": {"field": "value", "type": "quantitative", "axis": null}, "text": {"field": "label"}}},
      {"data": {"name": "xticks"}, "mark": {"type": "rule", "color": "black", "strokeWidth": 1.4, "y2Offset": -9},
       "encoding": {"x": {"field": "t", "type": "quantitative"}, "y": {"datum": 0, "type": "quantitative", "axis": null}, "y2": {"datum": 0}}},
      {"data": {"name": "yticksMajor"}, "mark": {"type": "rule", "color": "black", "strokeWidth": 1.4, "x2Offset": 11},
       "encoding": {"y": {"field": "t", "type": "quantitative", "axis": null}, "x": {"datum": 1945, "type": "quantitative"}, "x2": {"datum": 1945}}},
      {"data": {"name": "yticksMinor"}, "mark": {"type": "rule", "color": "black", "strokeWidth": 1.4, "x2Offset": 6},
       "encoding": {"y": {"field": "t", "type": "quantitative", "axis": null}, "x": {"datum": 1945, "type": "quantitative"}, "x2": {"datum": 1945}}},
      {"data": {"name": "yticksMajor"}, "mark": {"type": "rule", "color": "black", "strokeWidth": 1.4, "x2Offset": -11},
       "encoding": {"y": {"field": "t", "type": "quantitative", "axis": null}, "x": {"datum": 2001, "type": "quantitative"}, "x2": {"datum": 2001}}},
      {"data": {"name": "yticksMinor"}, "mark": {"type": "rule", "color": "black", "strokeWidth": 1.4, "x2Offset": -6},
       "encoding": {"y": {"field": "t", "type": "quantitative", "axis": null}, "x": {"datum": 2001, "type": "quantitative"}, "x2": {"datum": 2001}}}
    ]
  },
  {
    "width": 418, "height": 296,
    "layer": [
      {"data": {"name": "india"}, "mark": {"type": "line", "color": "black"},
       "encoding": {
         "x": {"field": "year", "type": "quantitative", "scale": {"domain": [1945, 2001], "nice": false, "zero": false}, "axis": {"values": [1950,1960,1970,1980,1990,2000], "format": "d", "labelPadding": 6, "title": "Year", "titlePadding": 6}},
         "y": {"field": "value", "type": "quantitative", "scale": {"domain": [0, 6], "nice": false}, "axis": null},
         "strokeDash": {"field": "series", "type": "nominal", "scale": {"domain": ["GDP","Energy","Al","Cu","Fe","Pb","Zn"], "range": [[1,0],[2,3],[6,3],[1,0],[3,2],[1,0],[10,4]]}, "legend": null},
         "strokeWidth": {"field": "series", "type": "ordinal", "scale": {"domain": ["GDP","Energy","Al","Cu","Fe","Pb","Zn"], "range": [2.6,1.2,1.1,1,1,1,1.1]}, "legend": null}
       }},
      {"data": {"name": "ylabBC"}, "transform": [{"calculate": "datum.t == 0 ? '0' : format(datum.t, '.1f')", "as": "lab"}],
       "mark": {"type": "text", "align": "right", "baseline": "middle", "dx": -11, "fontSize": 19},
       "encoding": {"y": {"field": "t", "type": "quantitative", "axis": null}, "x": {"datum": 1945, "type": "quantitative"}, "text": {"field": "lab"}}},
      {"data": {"name": "titleC"}, "mark": {"type": "text", "align": "left", "baseline": "middle", "fontWeight": "bold", "fontSize": 22},
       "encoding": {"x": {"field": "year", "type": "quantitative"}, "y": {"field": "value", "type": "quantitative", "axis": null}, "text": {"field": "label"}}},
      {"data": {"name": "arrowsC"}, "mark": {"type": "rule", "color": "black"},
       "encoding": {
         "x": {"field": "x1", "type": "quantitative"}, "y": {"field": "y1", "type": "quantitative", "axis": null},
         "x2": {"field": "x2"}, "y2": {"field": "y2"},
         "strokeDash": {"field": "series", "type": "nominal", "scale": {"domain": ["GDP","Energy","Al","Cu","Fe","Pb","Zn"], "range": [[1,0],[2,3],[6,3],[1,0],[3,2],[1,0],[10,4]]}, "legend": null},
         "strokeWidth": {"field": "series", "type": "ordinal", "scale": {"domain": ["GDP","Energy","Al","Cu","Fe","Pb","Zn"], "range": [2.6,1.2,1.1,1,1,1,1.1]}, "legend": null}
       }},
      {"data": {"name": "arrowsC"}, "transform": [{"calculate": "atan2((datum.x2-datum.x1)*7.46, (datum.y2-datum.y1)*49.33)*180/PI", "as": "ang"}],
       "mark": {"type": "point", "shape": "M0,0L-0.4,1.2L0.4,1.2Z", "filled": true, "color": "black", "opacity": 1, "size": 400, "strokeWidth": 0},
       "encoding": {"x": {"field": "x2", "type": "quantitative"}, "y": {"field": "y2", "type": "quantitative", "axis": null}, "angle": {"field": "ang", "type": "quantitative", "scale": null}}},
      {"data": {"name": "labelsC"}, "mark": {"type": "text", "align": "center", "baseline": "middle", "fontSize": 20},
       "encoding": {"x": {"field": "year", "type": "quantitative"}, "y": {"field": "value", "type": "quantitative", "axis": null}, "text": {"field": "label"}}},
      {"data": {"name": "xticks"}, "mark": {"type": "rule", "color": "black", "strokeWidth": 1.4, "y2Offset": -9},
       "encoding": {"x": {"field": "t", "type": "quantitative"}, "y": {"datum": 0, "type": "quantitative", "axis": null}, "y2": {"datum": 0}}},
      {"data": {"name": "yticksMajor"}, "mark": {"type": "rule", "color": "black", "strokeWidth": 1.4, "x2Offset": 11},
       "encoding": {"y": {"field": "t", "type": "quantitative", "axis": null}, "x": {"datum": 1945, "type": "quantitative"}, "x2": {"datum": 1945}}},
      {"data": {"name": "yticksMinor"}, "mark": {"type": "rule", "color": "black", "strokeWidth": 1.4, "x2Offset": 6},
       "encoding": {"y": {"field": "t", "type": "quantitative", "axis": null}, "x": {"datum": 1945, "type": "quantitative"}, "x2": {"datum": 1945}}},
      {"data": {"name": "yticksMajor"}, "mark": {"type": "rule", "color": "black", "strokeWidth": 1.4, "x2Offset": -11},
       "encoding": {"y": {"field": "t", "type": "quantitative", "axis": null}, "x": {"datum": 2001, "type": "quantitative"}, "x2": {"datum": 2001}}},
      {"data": {"name": "yticksMinor"}, "mark": {"type": "rule", "color": "black", "strokeWidth": 1.4, "x2Offset": -6},
       "encoding": {"y": {"field": "t", "type": "quantitative", "axis": null}, "x": {"datum": 2001, "type": "quantitative"}, "x2": {"datum": 2001}}}
    ]
  }
]
}
